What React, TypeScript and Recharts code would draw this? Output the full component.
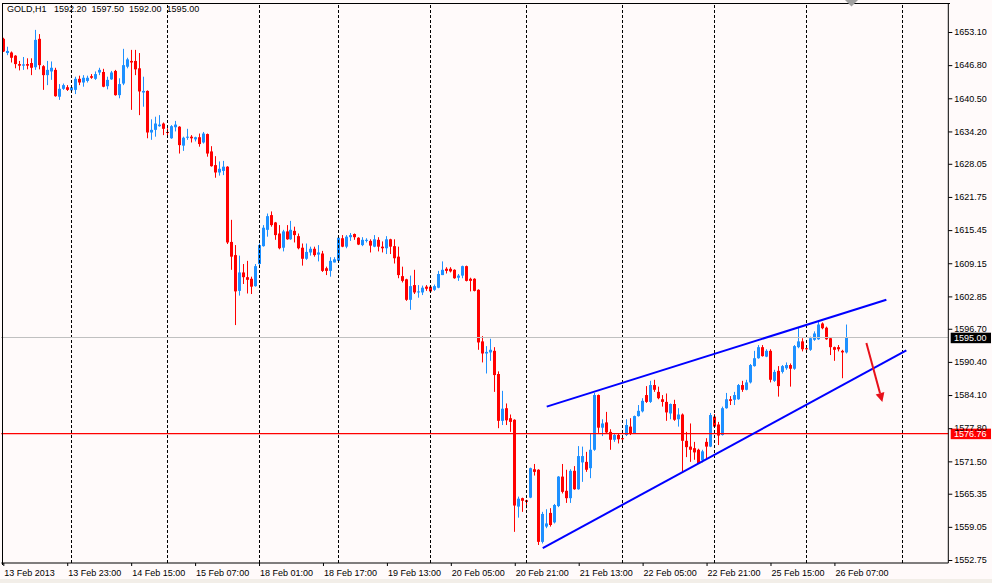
import React from 'react';
import { ComposedChart, Bar, XAxis, YAxis, ReferenceLine } from 'recharts';

// GOLD H1 – MT4 style candlesticks with a rising wedge

type Ohlc = [number, number, number, number]; // open, high, low, close

const symbol = 'GOLD,H1';

const feb13: Ohlc[] = [
  [1651.8, 1652.0, 1649.3, 1649.4], [1649.1, 1650.3, 1648.7, 1649.5], [1649.2, 1649.4, 1647.3, 1648.2],
  [1648.6, 1648.7, 1646.2, 1647.0], [1647.0, 1647.6, 1645.8, 1646.7], [1646.7, 1648.35, 1645.9, 1646.95],
  [1647.0, 1648.1, 1646.0, 1646.7], [1647.2, 1648.1, 1644.9, 1646.3], [1646.4, 1653.5, 1645.9, 1651.6],
  [1651.8, 1652.7, 1646.0, 1646.8], [1646.6, 1646.8, 1642.1, 1644.9], [1644.9, 1647.6, 1643.0, 1645.9],
  [1645.6, 1647.5, 1644.0, 1646.3], [1645.9, 1646.3, 1640.8, 1640.9], [1640.8, 1643.2, 1640.2, 1642.3],
  [1642.3, 1643.3, 1642.1, 1643.0], [1642.6, 1643.0, 1641.9, 1642.1],
];

const feb14: Ohlc[] = [
  [1642.0, 1643.0, 1641.8, 1642.6], [1642.1, 1644.6, 1641.3, 1644.2], [1644.2, 1644.8, 1643.0, 1643.5],
  [1643.5, 1644.9, 1642.7, 1644.4], [1643.8, 1644.8, 1643.5, 1644.4], [1644.7, 1645.1, 1644.2, 1644.4],
  [1644.2, 1645.6, 1644.0, 1645.1], [1645.4, 1646.3, 1644.9, 1645.9], [1645.5, 1646.1, 1642.6, 1642.7],
  [1642.8, 1644.6, 1642.2, 1644.0], [1644.1, 1645.7, 1644.0, 1645.4], [1645.7, 1645.9, 1641.0, 1641.1],
  [1641.1, 1644.3, 1640.5, 1643.2], [1643.3, 1649.9, 1643.0, 1646.8], [1646.5, 1648.2, 1646.2, 1647.9],
  [1647.6, 1649.7, 1638.3, 1647.3], [1647.6, 1649.7, 1644.9, 1646.0], [1646.2, 1649.1, 1637.3, 1641.8],
  [1641.6, 1644.6, 1638.9, 1641.9], [1641.9, 1642.0, 1632.9, 1634.0], [1634.0, 1636.5, 1632.6, 1634.5],
  [1634.5, 1637.0, 1633.2, 1635.7], [1635.2, 1637.3, 1635.1, 1635.5], [1635.7, 1635.9, 1633.5, 1634.7],
];

const feb15: Ohlc[] = [
  [1634.1, 1634.8, 1633.5, 1634.0], [1632.9, 1635.4, 1632.8, 1635.2], [1635.0, 1636.2, 1634.2, 1635.5],
  [1635.1, 1635.2, 1630.0, 1631.6], [1631.5, 1633.2, 1630.5, 1633.0], [1633.0, 1634.7, 1632.6, 1633.2],
  [1633.2, 1633.5, 1632.1, 1632.9], [1632.7, 1633.2, 1632.3, 1633.1], [1633.1, 1633.8, 1631.3, 1631.8],
  [1632.1, 1634.1, 1631.9, 1633.8], [1633.7, 1633.8, 1629.4, 1630.0], [1630.4, 1631.4, 1627.5, 1627.6],
  [1627.8, 1629.5, 1625.4, 1626.4], [1626.4, 1628.5, 1625.8, 1627.1], [1626.7, 1628.6, 1625.9, 1627.5],
  [1627.5, 1627.6, 1612.8, 1613.1], [1613.2, 1617.4, 1607.9, 1610.4], [1610.7, 1612.6, 1597.4, 1603.8],
  [1603.9, 1610.6, 1603.0, 1607.4], [1607.4, 1609.0, 1605.2, 1606.5], [1606.5, 1609.6, 1603.4, 1606.0],
  [1606.2, 1606.6, 1603.3, 1604.7], [1604.8, 1609.0, 1604.7, 1608.6],
];

const feb18: Ohlc[] = [
  [1609.0, 1612.9, 1608.8, 1612.6], [1612.4, 1616.4, 1612.3, 1615.9], [1615.5, 1618.6, 1614.2, 1618.1],
  [1618.3, 1619.0, 1616.1, 1616.4], [1616.9, 1617.0, 1613.6, 1614.5], [1614.8, 1616.4, 1611.8, 1612.0],
  [1612.1, 1615.5, 1611.4, 1615.2], [1615.2, 1616.4, 1613.6, 1613.7], [1613.7, 1617.2, 1613.6, 1615.5],
  [1615.3, 1616.1, 1613.1, 1614.5], [1614.3, 1614.8, 1611.8, 1612.0], [1612.1, 1612.9, 1608.7, 1610.0],
  [1610.0, 1612.9, 1609.8, 1611.3], [1611.2, 1612.3, 1610.6, 1611.9], [1611.9, 1612.3, 1610.4, 1610.7],
  [1610.8, 1612.6, 1609.5, 1611.2], [1611.0, 1611.5, 1607.5, 1607.7], [1608.2, 1608.5, 1606.9, 1607.7],
  [1607.7, 1610.3, 1606.6, 1609.6], [1609.3, 1610.3, 1609.3, 1609.9],
];

const feb19: Ohlc[] = [
  [1609.6, 1614.2, 1609.3, 1614.0], [1613.9, 1614.5, 1612.2, 1612.3], [1612.3, 1614.5, 1612.0, 1614.2],
  [1614.1, 1614.9, 1613.4, 1614.5], [1614.7, 1614.8, 1613.6, 1614.1], [1614.0, 1614.1, 1612.6, 1612.7],
  [1612.6, 1614.1, 1612.4, 1613.6], [1613.4, 1613.9, 1613.1, 1613.6], [1613.4, 1613.7, 1611.2, 1612.5],
  [1612.3, 1614.5, 1612.2, 1613.7], [1613.6, 1614.1, 1611.4, 1612.3], [1612.3, 1613.3, 1611.2, 1612.0],
  [1612.0, 1614.3, 1610.9, 1613.7], [1613.7, 1613.8, 1610.9, 1612.3], [1612.4, 1613.7, 1609.1, 1610.1],
  [1610.4, 1612.3, 1606.3, 1606.9], [1606.7, 1608.5, 1605.5, 1605.8], [1606.1, 1606.2, 1602.0, 1602.2],
  [1602.2, 1606.8, 1600.3, 1604.8], [1605.0, 1607.9, 1603.3, 1603.6], [1603.6, 1605.0, 1602.6, 1603.8],
  [1603.6, 1604.9, 1603.1, 1604.5], [1604.7, 1605.0, 1603.9, 1604.3],
];

const feb20: Ohlc[] = [
  [1604.7, 1604.8, 1603.6, 1603.8], [1604.1, 1605.1, 1603.9, 1604.8], [1604.5, 1607.7, 1604.4, 1607.1],
  [1606.9, 1609.5, 1606.9, 1607.9], [1608.1, 1608.4, 1607.2, 1607.7], [1608.1, 1608.4, 1607.4, 1607.6],
  [1607.9, 1608.0, 1606.2, 1606.3], [1606.4, 1607.1, 1605.8, 1606.8], [1606.8, 1608.7, 1606.3, 1608.6],
  [1608.6, 1608.7, 1605.7, 1605.8], [1606.2, 1606.4, 1603.8, 1605.8], [1606.2, 1606.3, 1603.8, 1603.9],
  [1604.1, 1604.2, 1592.7, 1594.1], [1594.3, 1595.3, 1590.3, 1592.0], [1592.0, 1593.4, 1588.2, 1592.3],
  [1592.2, 1594.8, 1590.6, 1592.7], [1592.5, 1593.2, 1584.7, 1587.9], [1588.1, 1588.6, 1577.8, 1579.2],
  [1579.2, 1584.9, 1578.4, 1581.5], [1581.6, 1582.5, 1578.4, 1579.3], [1579.7, 1580.4, 1577.1, 1579.0],
  [1579.4, 1579.5, 1558.1, 1563.1], [1562.9, 1564.8, 1560.8, 1564.4], [1564.5, 1564.6, 1561.9, 1564.0],
];

const feb21: Ohlc[] = [
  [1564.1, 1564.2, 1562.6, 1563.8], [1564.6, 1570.3, 1564.5, 1570.2], [1570.0, 1571.0, 1568.8, 1569.5],
  [1569.9, 1570.0, 1555.6, 1556.2], [1556.2, 1561.9, 1555.9, 1561.5], [1559.1, 1562.4, 1558.8, 1559.7],
  [1561.7, 1562.6, 1559.1, 1559.4], [1559.9, 1563.4, 1559.7, 1563.2], [1563.0, 1568.7, 1562.8, 1568.6],
  [1568.6, 1571.0, 1565.4, 1565.7], [1565.9, 1569.9, 1563.6, 1564.5], [1564.5, 1570.0, 1563.6, 1569.7],
  [1569.7, 1570.6, 1566.1, 1566.2], [1566.2, 1574.4, 1566.1, 1572.5], [1571.3, 1574.3, 1567.6, 1572.5],
  [1571.4, 1573.3, 1569.5, 1569.9], [1570.2, 1576.7, 1568.3, 1573.7], [1573.7, 1584.5, 1573.5, 1584.1],
  [1584.1, 1584.2, 1576.9, 1577.9], [1577.9, 1579.5, 1576.3, 1578.7], [1578.9, 1580.9, 1576.7, 1577.0],
  [1577.1, 1577.6, 1573.7, 1575.6], [1575.6, 1576.8, 1575.2, 1576.5], [1576.5, 1576.8, 1574.9, 1575.7],
];

const feb22: Ohlc[] = [
  [1575.9, 1576.2, 1575.4, 1575.8], [1576.5, 1579.5, 1576.3, 1578.4], [1578.1, 1579.7, 1576.5, 1576.7],
  [1576.8, 1580.2, 1576.7, 1580.1], [1580.1, 1582.2, 1580.0, 1581.1], [1581.0, 1583.5, 1580.8, 1583.0],
  [1584.1, 1585.8, 1582.6, 1582.8], [1582.8, 1586.8, 1582.6, 1586.0], [1586.0, 1587.0, 1584.7, 1585.1],
  [1584.7, 1585.7, 1583.3, 1583.5], [1583.3, 1584.1, 1581.9, 1582.8], [1582.8, 1584.4, 1579.2, 1580.8],
  [1580.6, 1582.5, 1579.5, 1582.4], [1582.4, 1583.2, 1579.2, 1579.4], [1579.5, 1581.6, 1578.1, 1580.4],
  [1580.4, 1580.6, 1569.5, 1575.4], [1575.4, 1577.1, 1572.3, 1574.2], [1574.3, 1578.7, 1571.4, 1573.7],
  [1574.0, 1575.2, 1571.8, 1573.2], [1573.7, 1573.9, 1571.0, 1571.1], [1571.7, 1573.7, 1571.3, 1573.4],
  [1575.2, 1575.9, 1572.1, 1574.3], [1574.3, 1580.7, 1574.2, 1580.3],
];

const feb25: Ohlc[] = [
  [1580.0, 1580.5, 1578.0, 1578.1], [1578.5, 1579.0, 1574.6, 1576.4], [1576.5, 1581.9, 1576.4, 1581.6],
  [1581.6, 1584.5, 1581.5, 1583.3], [1583.3, 1583.9, 1582.2, 1583.0], [1583.2, 1584.7, 1582.2, 1584.1],
  [1583.3, 1586.2, 1583.2, 1586.0], [1586.0, 1586.8, 1584.7, 1585.1], [1585.1, 1587.0, 1585.0, 1586.5],
  [1586.5, 1590.0, 1586.3, 1589.8], [1589.6, 1592.5, 1589.5, 1591.1], [1591.1, 1593.6, 1591.0, 1593.2],
  [1593.2, 1593.6, 1591.4, 1591.5], [1591.4, 1592.8, 1591.3, 1592.5], [1592.5, 1592.8, 1586.5, 1587.0],
  [1586.8, 1588.9, 1586.6, 1588.5], [1588.7, 1589.6, 1583.8, 1585.8], [1588.5, 1589.8, 1588.2, 1589.6],
  [1589.2, 1590.3, 1588.9, 1589.8], [1589.8, 1590.1, 1585.7, 1589.1], [1589.1, 1593.6, 1588.9, 1593.4],
  [1593.2, 1597.0, 1593.0, 1594.3], [1594.3, 1594.9, 1592.4, 1592.8],
];

const feb26: Ohlc[] = [
  [1593.0, 1593.1, 1592.7, 1592.8], [1592.7, 1595.2, 1592.5, 1594.9], [1594.6, 1596.2, 1594.4, 1595.8],
  [1594.7, 1598.2, 1594.6, 1597.5], [1597.7, 1597.9, 1596.6, 1596.8], [1596.9, 1597.1, 1594.6, 1594.7],
  [1594.9, 1595.0, 1591.7, 1593.2], [1593.2, 1593.3, 1590.6, 1592.7], [1593.2, 1593.6, 1592.4, 1592.8],
  [1592.5, 1592.7, 1587.3, 1592.2], [1592.2, 1597.5, 1592.0, 1595.0],
];

const sessions = [feb13, feb14, feb15, feb18, feb19, feb20, feb21, feb22, feb25, feb26];
const lastSessionHours = 24; // 26 Feb full session, for the next day separator
const shiftSlots = 25; // empty space right of the last bar

const timeLabels = [
  '13 Feb 2013', '13 Feb 23:00', '14 Feb 15:00', '15 Feb 07:00', '18 Feb 01:00',
  '18 Feb 17:00', '19 Feb 13:00', '20 Feb 05:00', '20 Feb 21:00', '21 Feb 13:00',
  '22 Feb 05:00', '22 Feb 21:00', '25 Feb 15:00', '26 Feb 07:00',
];
const timeLabelStep = 16;

const priceTicks = [
  1653.10, 1646.80, 1640.50, 1634.20, 1628.05, 1621.75, 1615.45, 1609.15, 1602.85,
  1596.70, 1590.40, 1584.10, 1577.80, 1571.50, 1565.35, 1559.05, 1552.75,
];
const priceDomain = [1552.18, 1658.61];

const bidPrice = 1595.00;
const alertPrice = 1576.76;

// trend lines: [bar index, price]
const upperChannel = [[136, 1581.9], [221, 1602.2]];
const lowerChannel = [[135, 1555.0], [226, 1592.6]];
const arrowPoints = [[216, 1594.0], [220, 1582.8]];

// ---- derived ----
const bars: Ohlc[] = sessions.flat();
const rows = [
  ...bars.map((b, i) => ({ i, o: b[0], h: b[1], l: b[2], c: b[3] })),
  ...Array.from({ length: shiftSlots }, (_, k) => ({ i: bars.length + k, o: null, h: null, l: null, c: null })),
];

const dayStarts: number[] = [];
let acc = 0;
sessions.forEach((s) => {
  dayStarts.push(acc);
  acc += s.length;
});
const separators = [...dayStarts.slice(1), dayStarts[dayStarts.length - 1] + lastSessionHours];

const tickBars = timeLabels.map((_, k) => k * timeLabelStep);
const last = bars[bars.length - 1];
const header = `${symbol}   ${last.map((v) => v.toFixed(2)).join('  ')}`;

const FONT = '"Liberation Sans", Arial, sans-serif';
const UP = '#1e90ff';
const DOWN = '#ff0000';

function Candle(props: any) {
  const { x, y, width, height, payload } = props;
  if (!payload || payload.h == null) return null;
  const { o, h, l, c } = payload;
  const top = Math.min(y, y + height);
  const span = Math.abs(height);
  const toY = (v: number) => (h === l ? top : top + ((h - v) / (h - l)) * span);
  const cx = Math.floor(x + width / 2);
  const color = c > o ? UP : DOWN;
  const bTop = toY(Math.max(o, c));
  const bBot = toY(Math.min(o, c));
  return (
    <g>
      <line x1={cx + 0.5} x2={cx + 0.5} y1={top} y2={top + span} stroke={color} strokeWidth={1} />
      <rect x={cx - 1} y={bTop} width={3} height={Math.max(1, bBot - bTop)} fill={color} />
    </g>
  );
}

function TimeTick({ x, y, payload }: any) {
  const k = tickBars.indexOf(payload.value);
  if (k < 0) return null;
  return (
    <g>
      <line x1={x + 0.5} x2={x + 0.5} y1={y} y2={y + 3} stroke="#000" />
      <text x={x + 1} y={y + 13} fontSize={9} fontFamily={FONT} fill="#000" textAnchor="start">
        {timeLabels[k]}
      </text>
    </g>
  );
}

function PriceTick({ x, y, payload }: any) {
  return (
    <g>
      <line x1={x} x2={x + 4} y1={y + 0.5} y2={y + 0.5} stroke="#000" />
      <text x={x + 6} y={y + 3.3} fontSize={9} fontFamily={FONT} fill="#000" textAnchor="start">
        {Number(payload.value).toFixed(2)}
      </text>
    </g>
  );
}

const priceBox = (value: number, bg: string) => (props: any) => {
  const vb = props.viewBox || {};
  const bx = vb.x + vb.width + 2.4;
  return (
    <g>
      <rect x={bx} y={vb.y - 5} width={40.3} height={10.5} fill={bg} />
      <text x={bx + 3.3} y={vb.y + 3.5} fontSize={9} fontFamily={FONT} fill="#fff">
        {value.toFixed(2)}
      </text>
    </g>
  );
};

function Arrow(props: any) {
  const { x1, y1, x2, y2 } = props;
  const ang = Math.atan2(y2 - y1, x2 - x1);
  const len = 9;
  const wing = 4.5;
  const bx = x2 - len * Math.cos(ang);
  const by = y2 - len * Math.sin(ang);
  const px = -Math.sin(ang) * wing;
  const py = Math.cos(ang) * wing;
  return (
    <g>
      <line x1={x1} y1={y1} x2={bx} y2={by} stroke="#e8101a" strokeWidth={2} />
      <polygon points={`${x2},${y2} ${bx + px},${by + py} ${bx - px},${by - py}`} fill="#e8101a" />
    </g>
  );
}

export default function App() {
  return (
    <div style={{ position: 'absolute', left: 0, top: 0, width: 992, height: 583, background: '#fffafa', overflow: 'hidden' }}>
      <ComposedChart
        width={992}
        height={583}
        data={rows}
        margin={{ top: 3, right: 0, bottom: 0, left: 1.3 }}
        barCategoryGap={0}
      >
        <XAxis
          dataKey="i"
          type="category"
          ticks={tickBars}
          interval={0}
          height={20}
          tickSize={0}
          tickMargin={0}
          tickLine={false}
          axisLine={{ stroke: '#000' }}
          tick={<TimeTick />}
        />
        <YAxis
          orientation="right"
          type="number"
          domain={priceDomain}
          allowDataOverflow
          ticks={priceTicks}
          interval={0}
          width={43.7}
          tickSize={0}
          tickMargin={0}
          tickLine={false}
          axisLine={{ stroke: '#000' }}
          tick={<PriceTick />}
        />
        {separators.map((s) => (
          <ReferenceLine key={s} x={s} stroke="#000" strokeDasharray="3 2" shapeRendering="crispEdges" />
        ))}
        <ReferenceLine y={bidPrice} stroke="#c0c0c0" shapeRendering="crispEdges" label={priceBox(bidPrice, '#000')} />
        <Bar dataKey={(r: any) => (r.h == null ? null : [r.l, r.h])} shape={<Candle />} isAnimationActive={false} />
        <ReferenceLine y={alertPrice} stroke="#ff0000" strokeWidth={1.2} label={priceBox(alertPrice, '#ff0000')} />
        <ReferenceLine
          segment={upperChannel.map(([x, y]) => ({ x, y }))}
          stroke="#0000ff"
          strokeWidth={2}
        />
        <ReferenceLine
          segment={lowerChannel.map(([x, y]) => ({ x, y }))}
          stroke="#0000ff"
          strokeWidth={2}
        />
        <ReferenceLine
          segment={arrowPoints.map(([x, y]) => ({ x, y }))}
          shape={(p: any) => <Arrow {...p} />}
        />
      </ComposedChart>
      {/* frame top / left */}
      <div style={{ position: 'absolute', left: 1.5, top: 2.5, width: 947, height: 561, borderLeft: '1px solid #000', borderTop: '1px solid #000', pointerEvents: 'none' }} />
      <div style={{ position: 'absolute', left: 7, top: 4, fontFamily: FONT, fontSize: 9, color: '#000', whiteSpace: 'pre' }}>
        {header}
      </div>
      <svg style={{ position: 'absolute', left: 845, top: 0 }} width={14} height={8}>
        <polygon points="0,0 13,0 6.5,6.5" fill="#a0a0a0" />
      </svg>
      <div style={{ position: 'absolute', left: 0, top: 579, width: 992, height: 4, background: '#f2eee8' }} />
    </div>
  );
}
